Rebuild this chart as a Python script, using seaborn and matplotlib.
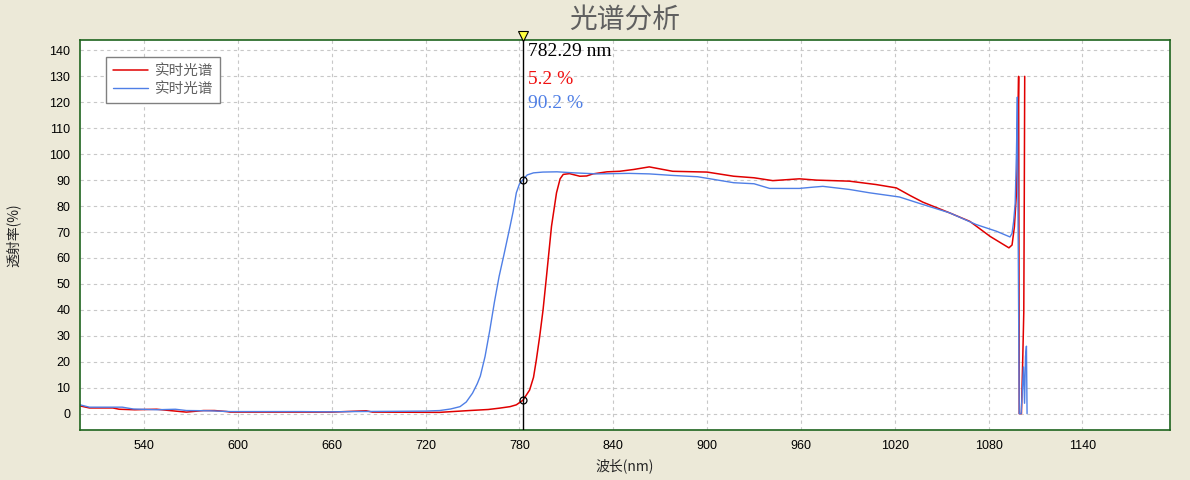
import pandas as pd
import seaborn as sns
import matplotlib.pyplot as plt
from matplotlib.ticker import MultipleLocator

# spectrum data (wavelength nm, transmittance %)
wl_red = [499, 505, 520, 524, 534, 548, 558, 567, 578, 585, 593, 595, 660, 682, 686, 729,
          748, 760, 767, 774, 778, 782.29, 786.5, 789, 790.8, 793, 795.1, 797.3, 800.5, 803.7,
          806, 808, 812, 818.6, 823, 827, 836, 844, 853, 863, 878, 900, 917, 930, 942, 959,
          970, 991, 1008, 1021, 1030, 1038, 1055, 1068, 1081, 1093, 1095, 1096.5, 1097.8,
          1098.6, 1099.2, 1099.6, 1101, 1101.8, 1102.5, 1102.8, 1103.1]
t_red = [3.0, 2.2, 2.2, 1.7, 1.5, 1.7, 1.1, 0.6, 1.2, 1.2, 0.8, 0.6, 0.6, 1.1, 0.6, 0.5,
         1.2, 1.6, 2.1, 2.7, 3.4, 5.2, 9.1, 14, 20.7, 30, 40, 52.9, 72.2, 85.1,
         90.5, 92.2, 92.5, 91.5, 91.6, 92.4, 93.2, 93.4, 94.1, 95.1, 93.4, 93.1, 91.5, 90.9, 89.8, 90.5,
         90.0, 89.6, 88.3, 87.0, 84.0, 81.5, 77.4, 74.1, 68.3, 63.9, 65.0, 72.0, 85.0,
         105, 130, 0, 0, 20, 39, 80, 130]

wl_blue = [499, 505, 526, 533, 548, 560, 567, 582, 595, 640, 659, 673, 700, 720, 729, 736,
           742, 746, 750, 753, 755, 758, 761, 764, 767, 770, 774, 776, 778, 780, 782.29, 785, 789,
           795, 804, 815, 830, 850, 863, 878, 894, 905, 917, 930, 940, 959, 968, 974, 991,
           1004, 1023, 1038, 1055, 1072, 1085, 1093.7, 1095, 1096, 1097, 1097.8, 1098.4,
           1099.0, 1099.6, 1100.8, 1101.5, 1102.3, 1103, 1103.6, 1104.2, 1104.6]
t_blue = [3.4, 2.5, 2.5, 1.8, 1.5, 1.7, 1.2, 1.1, 0.8, 0.8, 0.7, 0.8, 0.9, 1.0, 1.2, 1.8,
          2.7, 4.5, 7.9, 11.5, 14.5, 22, 32, 43, 52.9, 61, 72.2, 78, 85.1, 88.5, 90.2, 92.0, 92.8,
          93.1, 93.2, 92.8, 92.4, 92.6, 92.4, 91.8, 91.3, 90.2, 89.0, 88.6, 86.8, 86.8, 87.3, 87.6, 86.4,
          85.1, 83.5, 80.6, 77.4, 72.9, 70.3, 68.1, 69.5, 74.0, 81.0, 100, 122,
          60, 0, 0, 8, 18, 4, 22, 26, 0]

cursor_x = 782.29
cursor_red = 5.2
cursor_blue = 90.2

xticks = list(range(540, 1141, 60))
yticks = list(range(0, 141, 10))

BG = '#ECE9D8'
GREEN = '#1E641E'
RED = '#E00000'
BLUE = '#4F7FE6'
CJK = ['Noto Sans CJK SC', 'DejaVu Sans']

sns.set_style('white')
plt.rcParams['font.family'] = ['Liberation Sans', 'Noto Sans CJK SC', 'DejaVu Sans']

df_red = pd.DataFrame({'wl': wl_red, 't': t_red})
df_blue = pd.DataFrame({'wl': wl_blue, 't': t_blue})

fig = plt.figure(figsize=(11.9, 4.8), dpi=100, facecolor=BG)
ax = fig.add_axes([80 / 1190, 1 - 430 / 480, 1090 / 1190, 390 / 480])
ax.set_facecolor('white')

sns.lineplot(data=df_red, x='wl', y='t', ax=ax, color=RED, linewidth=1.1,
             estimator=None, sort=False, label='实时光谱')
sns.lineplot(data=df_blue, x='wl', y='t', ax=ax, color=BLUE, linewidth=1.0,
             estimator=None, sort=False, label='实时光谱')

ax.set_xlim(499, 1196)
ax.set_ylim(-6.3, 144)
ax.set_xticks(xticks)
ax.set_yticks(yticks)
ax.xaxis.set_minor_locator(MultipleLocator(12))
ax.yaxis.set_minor_locator(MultipleLocator(2))
ax.tick_params(which='major', direction='in', length=5, width=1, color=GREEN,
               labelsize=9, pad=7, labelcolor='black')
ax.tick_params(which='minor', direction='in', length=2.5, width=0.8, color=GREEN)
ax.grid(True, which='major', linestyle=(0, (3, 3)), color='#C8C8C8', linewidth=0.8)
ax.set_axisbelow(True)
for s in ax.spines.values():
    s.set_color(GREEN)
    s.set_linewidth(1.2)

# cursor
ax.axvline(cursor_x, color='black', linewidth=1.0, zorder=5)
ax.plot([cursor_x], [1.01], marker='v', markersize=7, color='#FFFF40', markeredgecolor='black',
        markeredgewidth=0.8, transform=ax.get_xaxis_transform(), clip_on=False, zorder=6)
ax.plot([cursor_x, cursor_x], [cursor_red, cursor_blue], linestyle='none', marker='o', markersize=5,
        markerfacecolor='none', markeredgecolor='black', markeredgewidth=0.9, zorder=6)
ax.text(cursor_x + 3.5, 139.4, f'{cursor_x:.2f} nm', color='black', fontsize=14,
        family='Liberation Serif', va='center', ha='left')
ax.text(cursor_x + 3.5, 128.6, f'{cursor_red:.1f} %', color='#F01010', fontsize=14,
        family='Liberation Serif', va='center', ha='left')
ax.text(cursor_x + 3.5, 119.6, f'{cursor_blue:.1f} %', color=BLUE, fontsize=14,
        family='Liberation Serif', va='center', ha='left')

leg = ax.legend(loc='upper left', bbox_to_anchor=(0.024, 0.956), borderaxespad=0,
                fancybox=False, edgecolor='#808080', framealpha=1, handlelength=2.4,
                handletextpad=0.5, labelspacing=0.3, borderpad=0.45,
                prop={'family': CJK, 'size': 10.5})
leg.get_frame().set_linewidth(1.0)
for t in leg.get_texts():
    t.set_color('#606060')

ax.set_xlabel('波长(nm)', family=CJK, fontsize=10, labelpad=5)
ax.set_ylabel('')
fig.text(13 / 1190, 1 - 235 / 480, '透射率(%)', family=CJK, fontsize=10, rotation=90,
         ha='center', va='center')
fig.text(625 / 1190, 1 - 20 / 480, '光谱分析', family=CJK, fontsize=20, color='#606060',
         ha='center', va='center')

fig.savefig('out.png', dpi=100, facecolor=BG)
